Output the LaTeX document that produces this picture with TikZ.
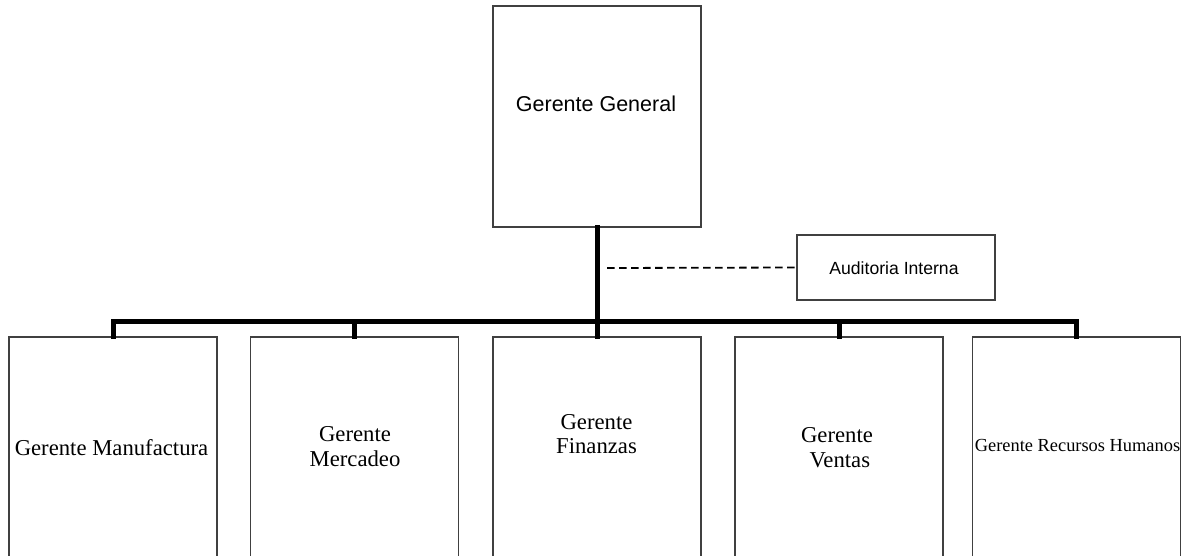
\documentclass[tikz,border=0pt]{standalone}
\usepackage{fontspec}
\setmainfont{Liberation Serif}
\newfontfamily\chartsans{Liberation Sans}
\begin{document}
\begin{tikzpicture}[x=1pt,y=-1pt,
  orgbox/.style={draw=black!75, line width=1.3pt, fill=white, inner sep=0pt,
    minimum width=208pt, minimum height=226pt},
  topbox/.style={orgbox, minimum height=221pt},
  sidebox/.style={orgbox, minimum width=198pt, minimum height=65pt},
  sanslabel/.style={inner sep=0pt, font=\chartsans\fontsize{21.5}{25}\selectfont},
  smallsans/.style={inner sep=0pt, font=\chartsans\fontsize{17.6}{21}\selectfont},
  seriflabel/.style={inner sep=0pt, align=center, font=\fontsize{22.7}{25}\selectfont},
  smallserif/.style={inner sep=0pt, font=\fontsize{18.4}{22}\selectfont},
  bus/.style={line width=5pt, line join=miter, line cap=rect},
  staff/.style={line width=1.8pt, dash pattern=on 7.5pt off 4.5pt}]

  \useasboundingbox (0,0) rectangle (1181,556);
  \clip (0,0) rectangle (1181,556);
  \fill[white] (0,0) rectangle (1181,556);

  % general manager and internal audit
  \node[topbox]  (gg)  at (597,116.5) {};
  \node[sidebox] (aud) at (896,267.5) {};

  % department managers
  \node[orgbox] (m1) at (113,450) {};
  \node[orgbox] (m2) at (354.5,450) {};
  \node[orgbox] (m3) at (597,450) {};
  \node[orgbox] (m4) at (839,450) {};
  \node[orgbox] (m5) at (1076.5,450) {};

  % labels
  \node[sanslabel, anchor=base] (ggt) at (596,112) {Gerente General};
  \node[smallsans, anchor=base] (audt) at (894,275) {Auditoria Interna};
  \node[seriflabel, anchor=base] (m1t) at (111.5,455) {Gerente Manufactura};
  \node[seriflabel, anchor=north] (m2t) at (355,426.6) {Gerente\\Mercadeo};
  \node[seriflabel, anchor=north, font=\fontsize{22.7}{24}\selectfont] (m3t) at (596.5,414.6) {Gerente\\Finanzas};
  \node[seriflabel, anchor=north] (m4t) at (837,427.3) {Gerente\\\ Ventas};
  \node[smallserif, anchor=base] (m5t) at (1077.5,451.7) {Gerente Recursos Humanos};

  % reporting lines
  \coordinate (busy) at (0,321);
  \coordinate (staffend) at (607,268);
  \draw[bus] (gg.south) -- (gg.south |- busy);
  \draw[bus] (m1.north) -- (m1.north |- busy) -- (m5.north |- busy) -- (m5.north);
  \draw[bus] (m2.north) -- (m2.north |- busy);
  \draw[bus] (m3.north) -- (m3.north |- busy);
  \draw[bus] (m4.north) -- (m4.north |- busy);
  \draw[staff] (staffend) -- (aud.west);
\end{tikzpicture}
\end{document}
